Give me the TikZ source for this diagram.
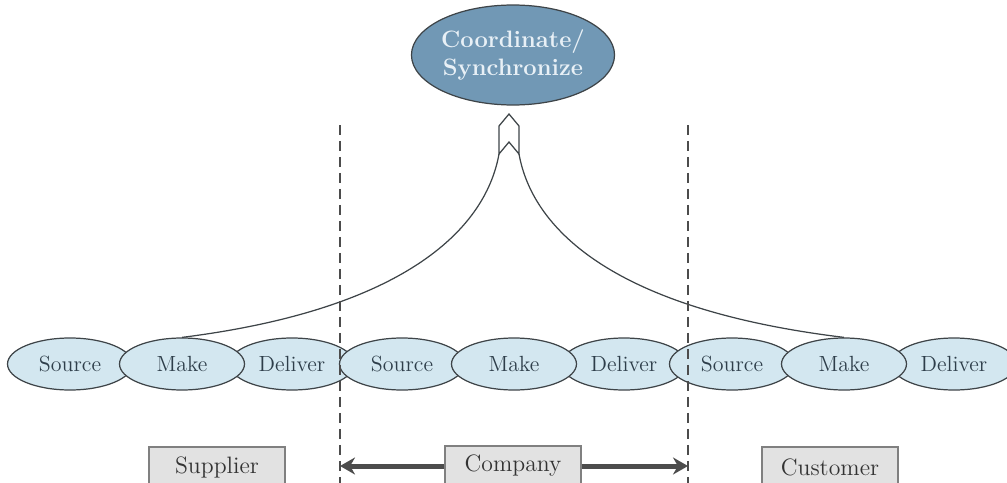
\documentclass[tikz,border=0pt]{standalone}
\usetikzlibrary{arrows.meta}
\usetikzlibrary{shapes.geometric}
\definecolor{stageblue}{HTML}{D3E7F0}
\definecolor{stagetext}{HTML}{2E3E4A}
\definecolor{syncblue}{HTML}{7198B5}
\definecolor{synctext}{HTML}{E8F0F6}
\definecolor{boxgray}{HTML}{E2E2E2}
\definecolor{linegray}{HTML}{3E4448}

\begin{document}
\begin{tikzpicture}[x=0.02cm, y=-0.02cm,
    stage/.style={ellipse, draw=linegray, line width=0.7pt, fill=stageblue, inner sep=0pt,
      minimum width=2.5cm, minimum height=1.04cm, text=stagetext,
      font=\fontsize{12.5}{14}\selectfont},
    party/.style={draw=gray, line width=0.7pt, fill=boxgray, minimum width=2.72cm,
      minimum height=0.8cm, text=black!80, font=\fontsize{13.5}{15}\selectfont},
    border/.style={black!70, line width=0.6pt, dash pattern=on 0.2cm off 0.12cm},
    span/.style={black!70, line width=1mm, -{Stealth[length=3mm, width=3.4mm]}}]
    \useasboundingbox (0,0) rectangle (1007,483);
    \clip (0,0) rectangle (1007,483);

    \node[ellipse, draw=linegray, line width=0.7pt, fill=syncblue, minimum width=3.4cm,
      minimum height=2cm, inner sep=0pt, align=center, text=synctext,
      font=\fontsize{13.5}{15.5}\selectfont\bfseries] (sync) at (513,55) {Coordinate/\\Synchronize};

    % source and deliver first, make on top
    \foreach \i/\x in {1/70, 2/402, 3/732} {
      \node[stage] (src\i) at (\x,364) {Source};
      \node[stage] (dlv\i) at ({\x+222},364) {Deliver};
    }
    \foreach \i/\x in {1/70, 2/402, 3/732} {
      \node[stage] (mk\i) at ({\x+112},364) {Make};
    }

    % the hollow tip the two curves run into
    \coordinate (tipl) at (499,154);
    \coordinate (tipr) at (519,154);
    \draw[linegray, line width=0.7pt] (tipl) -- (499,126) -- (509,114) -- (519,126) -- (tipr) -- (509,142) -- cycle;
    \draw[linegray, line width=0.7pt] (mk1.north) .. controls (400,310) and (485,232) .. (tipl);
    \draw[linegray, line width=0.7pt] (mk3.north) .. controls (618,310) and (533,232) .. (tipr);

    % dashed company borders
    \coordinate (lt) at (340,125);
    \coordinate (lb) at (340,483);
    \coordinate (rt) at (688,125);
    \coordinate (rb) at (688,483);
    \draw[border] (lt) -- (lb);
    \draw[border] (rt) -- (rb);

    \node[party] (supplier) at (217,467) {Supplier};
    \node[party] (company) at (513,466) {Company};
    \node[party] (customer) at (830,467) {Customer};

    \coordinate (la) at (340,466);
    \coordinate (ra) at (688,466);
    \draw[span] (company.west) -- (la);
    \draw[span] (company.east) -- (ra);
\end{tikzpicture}
\end{document}
